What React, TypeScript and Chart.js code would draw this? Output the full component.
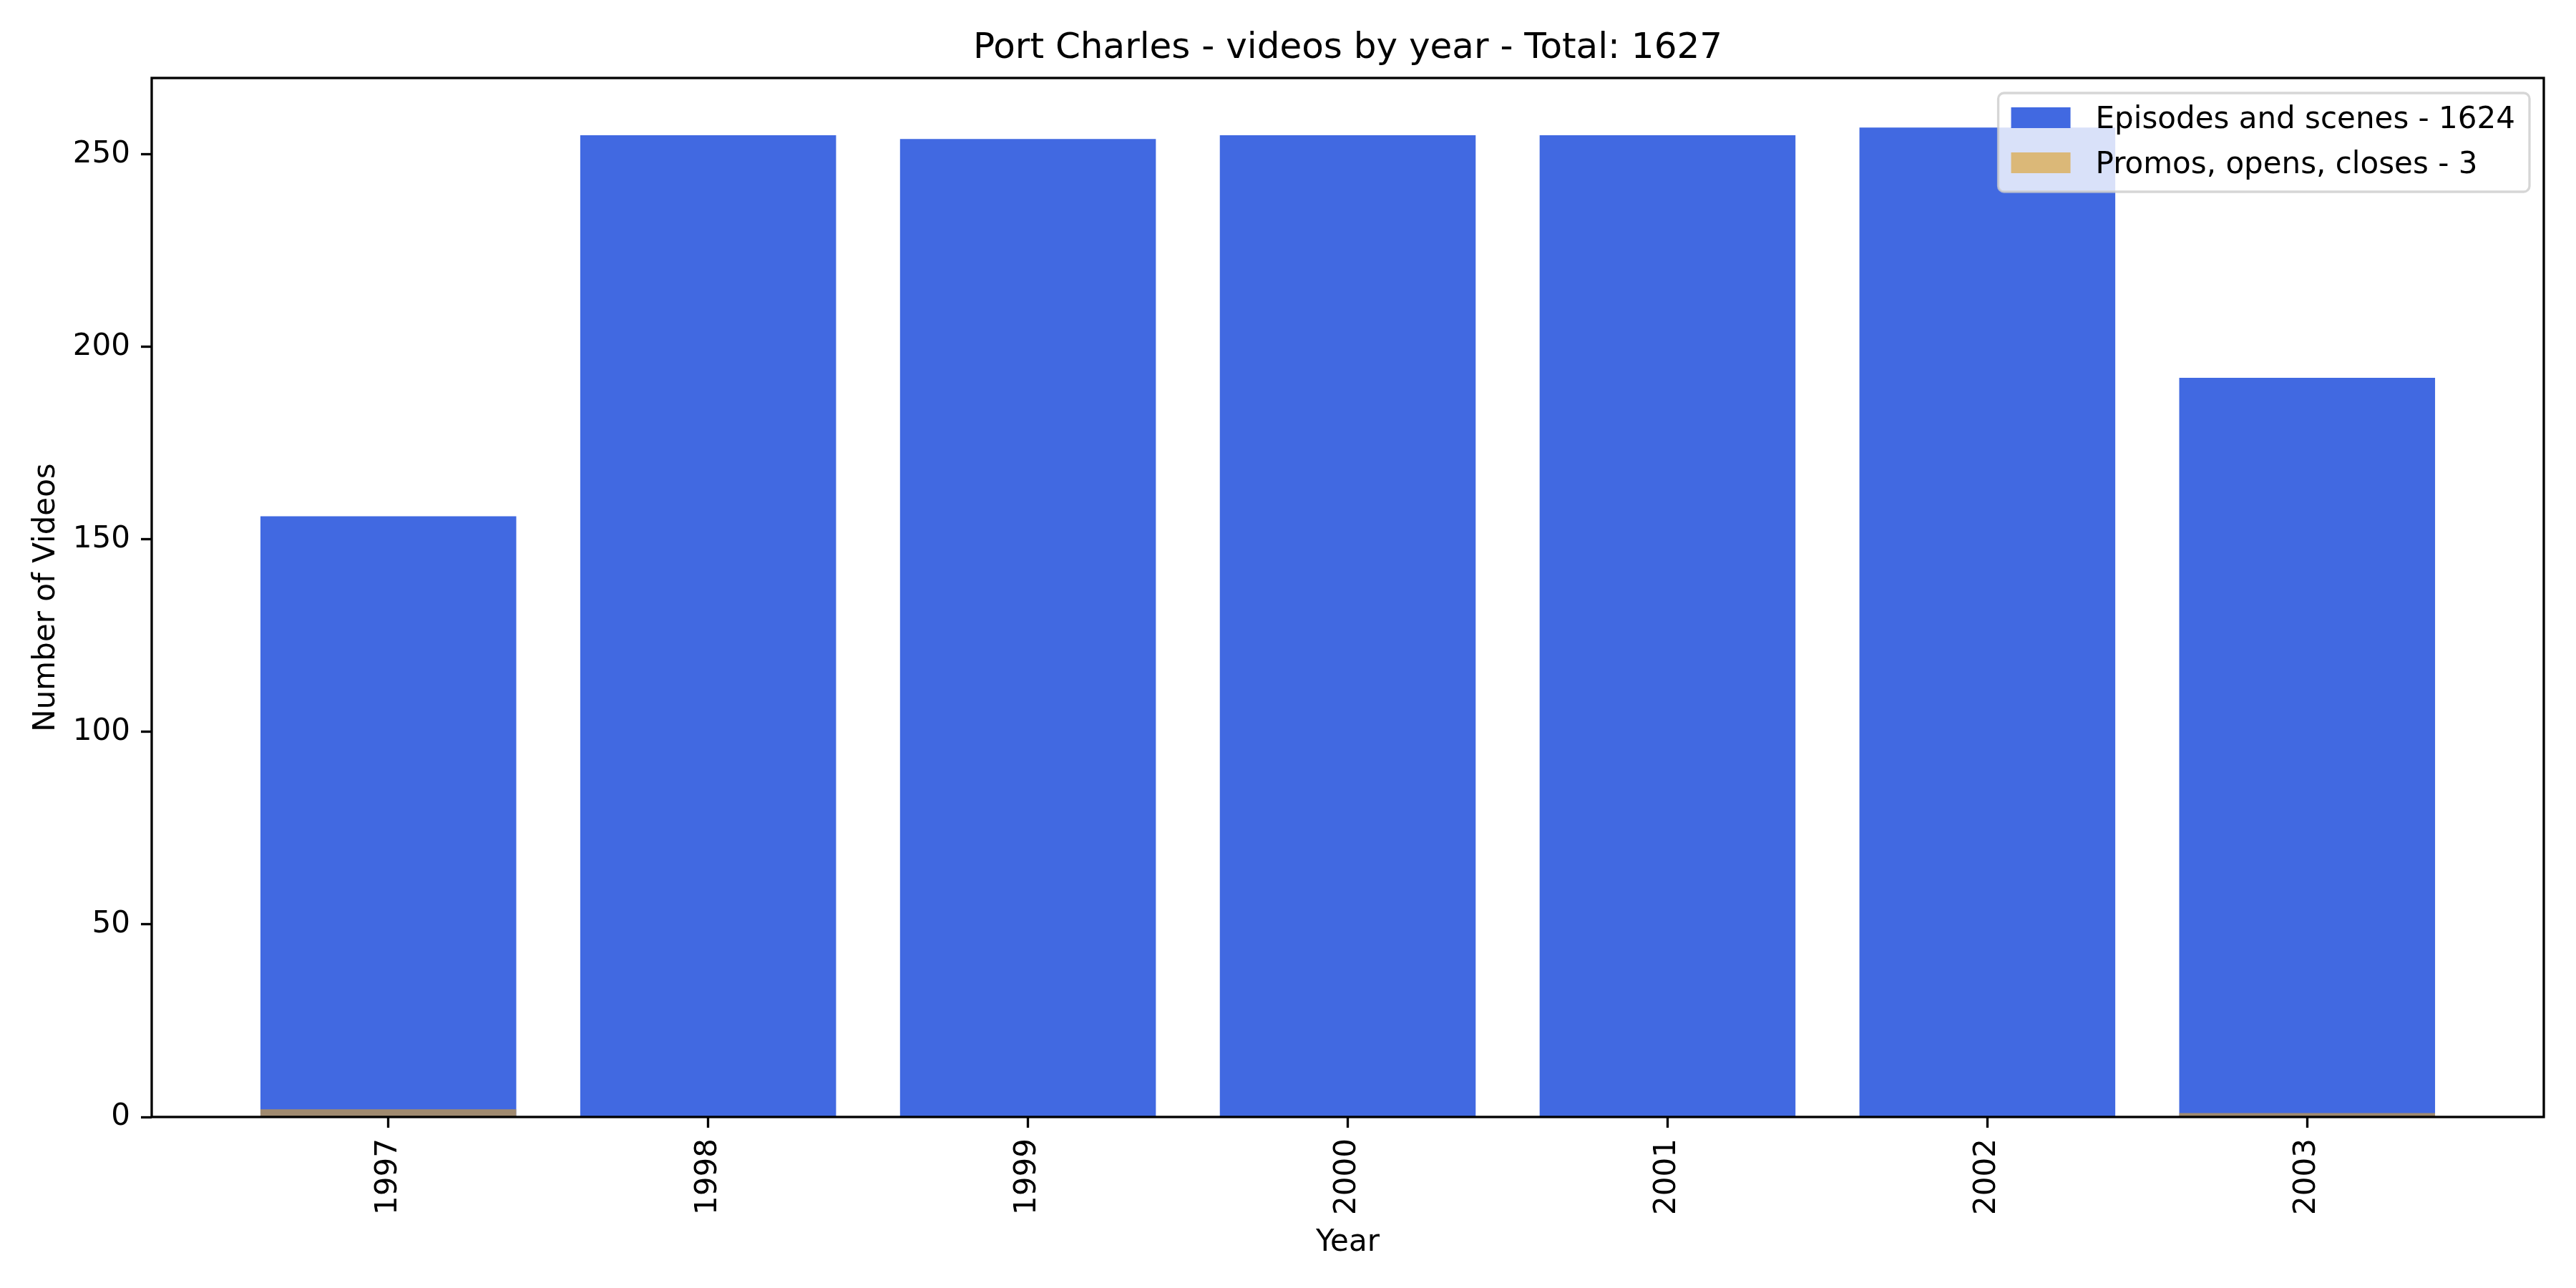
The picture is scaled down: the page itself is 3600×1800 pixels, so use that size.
import React, { useEffect, useRef } from 'react';
import { Chart, registerables } from 'chart.js';

Chart.register(...registerables);

const years = ['1997', '1998', '1999', '2000', '2001', '2002', '2003'];
const episodes = [156, 255, 254, 255, 255, 257, 192];
const promos = [2, 0, 0, 0, 0, 0, 1];
const yTicks = [0, 50, 100, 150, 200, 250];
const seriesNames = ['Episodes and scenes', 'Promos, opens, closes'];
const seriesColors = ['#4169E1', 'rgba(220,158,40,0.62)'];
const showName = 'Port Charles';

const FONT = "'DejaVu Sans', 'Liberation Sans', sans-serif";
const LW = 3.33;

const sum = (a: number[]) => a.reduce((s, v) => s + v, 0);

const frameAndLegend = {
  id: 'frameAndLegend',
  afterDatasetsDraw(chart: any) {
    const { ctx, chartArea: a } = chart;
    ctx.save();
    ctx.strokeStyle = '#000';
    ctx.lineWidth = LW;
    ctx.strokeRect(a.left, a.top, a.right - a.left, a.bottom - a.top);
    ctx.restore();
  },
  afterDraw(chart: any) {
    const { ctx, chartArea: a } = chart;
    const fs = 42;
    ctx.save();
    ctx.font = `${fs}px ${FONT}`;
    const labels: string[] = chart.data.datasets.map((d: any) => d.label);
    const colors: string[] = chart.data.datasets.map((d: any) => d.backgroundColor);
    const maxW = Math.max(...labels.map((l) => ctx.measureText(l).width));
    const boxRight = a.right - 20;
    const boxTop = a.top + 21;
    const textX = boxRight - 20 - maxW;
    const patchR = textX - 35;
    const patchL = patchR - 83;
    const boxLeft = patchL - 18;
    const boxBottom = boxTop + 138;
    ctx.beginPath();
    ctx.roundRect(boxLeft, boxTop, boxRight - boxLeft, boxBottom - boxTop, 8);
    ctx.fillStyle = 'rgba(255,255,255,0.8)';
    ctx.fill();
    ctx.strokeStyle = 'rgba(204,204,204,0.8)';
    ctx.lineWidth = 3.3;
    ctx.stroke();
    labels.forEach((l, i) => {
      const base = boxTop + 49 + i * 63;
      ctx.fillStyle = colors[i];
      ctx.fillRect(patchL, base - 29, patchR - patchL, 29);
      ctx.fillStyle = '#000';
      ctx.textAlign = 'left';
      ctx.textBaseline = 'alphabetic';
      ctx.fillText(l, textX, base);
    });
    ctx.restore();
  },
};

export default function App() {
  const ref = useRef<HTMLCanvasElement | null>(null);
  useEffect(() => {
    if (!ref.current) return;
    Chart.defaults.font.family = FONT;
    Chart.defaults.color = '#000';
    const total = sum(episodes) + sum(promos);
    const chart = new Chart(ref.current, {
      type: 'bar',
      data: {
        datasets: [
          {
            label: `${seriesNames[0]} - ${sum(episodes)}`,
            data: years.map((_, i) => ({ x: i, y: episodes[i] })),
            backgroundColor: seriesColors[0],
            borderWidth: 0,
            grouped: false,
            order: 2,
            categoryPercentage: 0.8,
            barPercentage: 1,
          } as any,
          {
            label: `${seriesNames[1]} - ${sum(promos)}`,
            data: years.map((_, i) => ({ x: i, y: promos[i] })),
            backgroundColor: seriesColors[1],
            borderWidth: 0,
            grouped: false,
            order: 1,
            categoryPercentage: 0.8,
            barPercentage: 1,
          } as any,
        ],
      },
      options: {
        animation: false,
        responsive: false,
        devicePixelRatio: 1,
        layout: { padding: { left: 0, right: 45, top: 0, bottom: 0 } },
        plugins: {
          legend: { display: false },
          tooltip: { enabled: false },
          title: {
            display: true,
            text: `${showName} - videos by year - Total: ${total}`,
            font: { size: 50, weight: 'normal', family: FONT },
            color: '#000',
            padding: { top: 38, bottom: 11 },
            fullSize: false,
          } as any,
        },
        scales: {
          x: {
            type: 'linear',
            min: -0.74,
            max: 6.74,
            offset: false,
            afterBuildTicks: (scale: any) => {
              scale.ticks = years.map((_, i) => ({ value: i }));
            },
            afterFit: (scale: any) => {
              scale.height = 239;
            },
            ticks: {
              callback: (v: any) => years[v as number],
              minRotation: 90,
              maxRotation: 90,
              autoSkip: false,
              font: { size: 42, family: FONT },
              color: '#000',
              padding: 15,
            },
            grid: {
              display: true,
              offset: false,
              drawOnChartArea: false,
              drawTicks: true,
              tickLength: 15,
              tickWidth: LW,
              tickColor: '#000',
            },
            border: { display: false },
            title: {
              display: true,
              text: 'Year',
              font: { size: 42, family: FONT },
              color: '#000',
              padding: { top: 0, bottom: 38 },
            },
          } as any,
          y: {
            type: 'linear',
            min: 0,
            max: 269.85,
            afterBuildTicks: (scale: any) => {
              scale.ticks = yTicks.map((v) => ({ value: v }));
            },
            afterFit: (scale: any) => {
              scale.width = 212;
            },
            ticks: {
              font: { size: 42, family: FONT },
              color: '#000',
              padding: 15,
            },
            grid: {
              display: true,
              offset: false,
              drawOnChartArea: false,
              drawTicks: true,
              tickLength: 15,
              tickWidth: LW,
              tickColor: '#000',
            },
            border: { display: false },
            title: {
              display: true,
              text: 'Number of Videos',
              font: { size: 42, family: FONT },
              color: '#000',
              padding: { top: 40, bottom: 0 },
            },
          } as any,
        },
      },
      plugins: [frameAndLegend],
    });
    return () => chart.destroy();
  }, []);
  return (
    <div style={{ position: 'fixed', left: 0, top: 0, width: 3600, height: 1800, background: '#fff' }}>
      <canvas ref={ref} width={3600} height={1800} style={{ width: 3600, height: 1800, display: 'block' }} />
    </div>
  );
}
